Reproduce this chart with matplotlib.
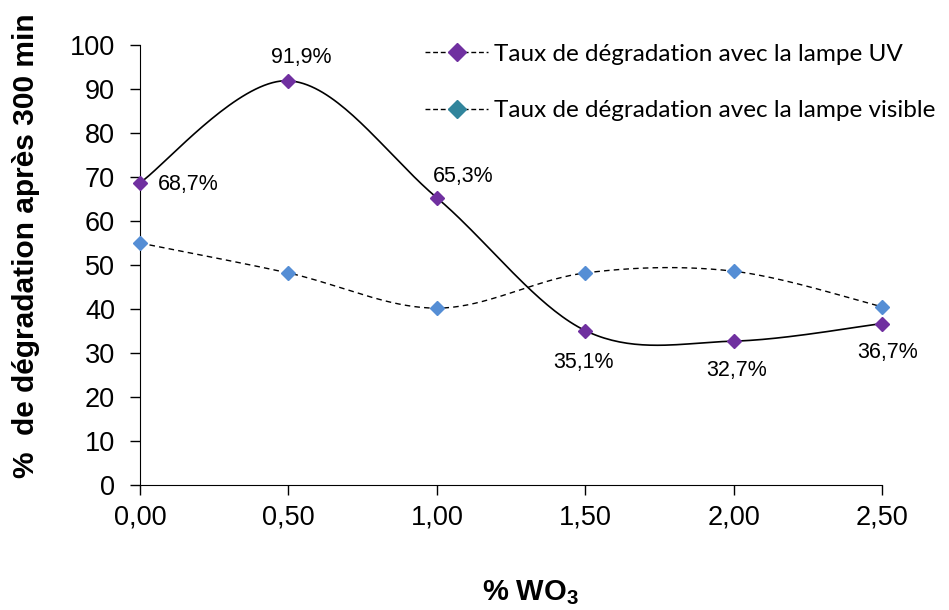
import numpy as np
import matplotlib
matplotlib.use('Agg')
import matplotlib.pyplot as plt
from matplotlib.lines import Line2D
from matplotlib.ticker import FuncFormatter

plt.rcParams['font.family'] = ['Liberation Sans', 'DejaVu Sans']
plt.rcParams['mathtext.fontset'] = 'custom'
plt.rcParams['mathtext.rm'] = 'Liberation Sans'
plt.rcParams['mathtext.bf'] = 'Liberation Sans:bold'

# Data
wo3 = [0.0, 0.5, 1.0, 1.5, 2.0, 2.5]
uv_rate = [68.7, 91.9, 65.3, 35.1, 32.7, 36.7]
visible_rate = [55.0, 48.2, 40.2, 48.2, 48.6, 40.5]
uv_labels = ['68,7%', '91,9%', '65,3%', '35,1%', '32,7%', '36,7%']
series_names = ['Taux de dégradation avec la lampe UV',
                'Taux de dégradation avec la lampe visible']

# label offsets in points (dx, dy) relative to each marker
label_offsets = [(13, -1), (9, 17), (19, 15), (-1, -23), (2, -21), (4, -21)]


def smooth_curve(x, y, n=40):
    # Bezier smoothing through each point (control points at 1/6 of neighbour span)
    p = np.column_stack([x, y]).astype(float)
    pts = np.vstack([p[0], p, p[-1]])
    out = []
    t = np.linspace(0, 1, n)[:, None]
    for i in range(1, len(pts) - 2):
        p0, p1 = pts[i], pts[i + 1]
        c1 = p0 + (pts[i + 1] - pts[i - 1]) / 6
        c2 = p1 - (pts[i + 2] - pts[i]) / 6
        seg = ((1 - t) ** 3 * p0 + 3 * (1 - t) ** 2 * t * c1
               + 3 * (1 - t) * t ** 2 * c2 + t ** 3 * p1)
        out.append(seg if i == 1 else seg[1:])
    out = np.vstack(out)
    return out[:, 0], out[:, 1]


fig = plt.figure(figsize=(9.49, 6.10), dpi=100)
ax = fig.add_axes([0.1475, 0.205, 0.782, 0.721])

sx, sy = smooth_curve(wo3, visible_rate)
ax.plot(sx, sy, color='black', lw=1.0, ls=(0, (4, 3)), zorder=2, clip_on=False)
ax.plot(wo3, visible_rate, ls='none', marker='D', ms=7, color='#558ED5',
        zorder=3, clip_on=False)

sx, sy = smooth_curve(wo3, uv_rate)
ax.plot(sx, sy, color='black', lw=1.2, zorder=2, clip_on=False)
ax.plot(wo3, uv_rate, ls='none', marker='D', ms=7, color='#7030A0',
        zorder=4, clip_on=False)

for i, (xv, yv, txt) in enumerate(zip(wo3, uv_rate, uv_labels)):
    dx, dy = label_offsets[i]
    ha = 'left' if i == 0 else 'center'
    ax.annotate(txt, (xv, yv), xytext=(dx, dy), textcoords='offset points',
                ha=ha, va='center', fontsize=15.5)

ax.set_xlim(0, 2.5)
ax.set_ylim(0, 100)
ax.set_xticks(wo3)
ax.set_yticks(range(0, 101, 10))
ax.xaxis.set_major_formatter(FuncFormatter(lambda v, _: f'{v:.2f}'.replace('.', ',')))
ax.tick_params(axis='both', labelsize=19.5, direction='out', length=7, width=1)
ax.tick_params(axis='x', pad=7)
ax.tick_params(axis='y', pad=11)
ax.spines['top'].set_visible(False)
ax.spines['right'].set_visible(False)

ax.set_ylabel('%  de dégradation après 300 min', fontsize=21.5, fontweight='bold')
ax.yaxis.set_label_coords(-0.135, 0.545)
ax.set_xlabel('% WO$_\\mathbf{3}$', fontsize=21, fontweight='bold')
ax.xaxis.set_label_coords(0.526, -0.213)

handles = [
    Line2D([], [], color='black', lw=1, ls=(0, (3.5, 2)), marker='D', ms=9,
           markerfacecolor='#7030A0', markeredgecolor='#7030A0'),
    Line2D([], [], color='black', lw=1, ls=(0, (3.5, 2)), marker='D', ms=9,
           markerfacecolor='#31859C', markeredgecolor='#31859C'),
]
leg = ax.legend(handles, series_names,
                loc='upper left', bbox_to_anchor=(0.384, 1.003), frameon=False,
                handlelength=2.6, handletextpad=0.25, labelspacing=1.45,
                borderpad=0, borderaxespad=0,
                prop={'family': 'Lato', 'size': 17.5})

fig.savefig('out.png', dpi=100)
